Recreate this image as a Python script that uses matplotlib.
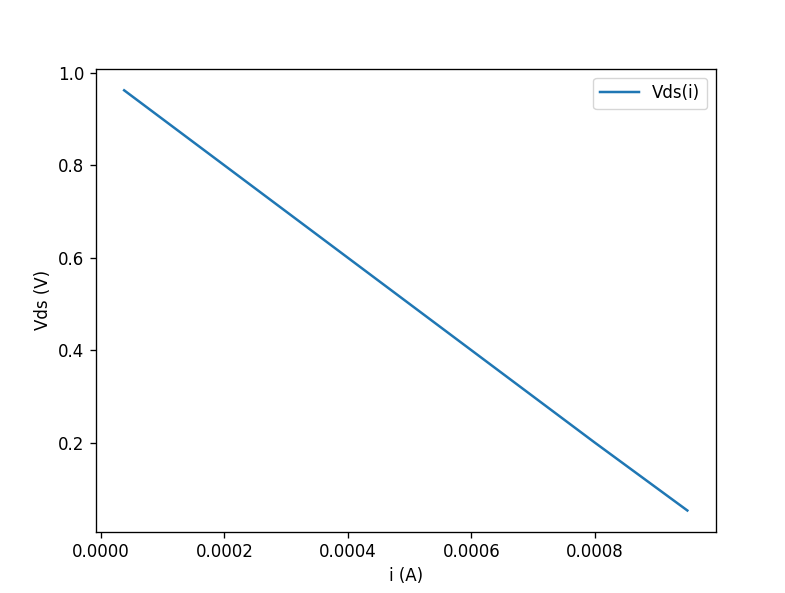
import numpy as np
import matplotlib
matplotlib.use('Agg')
import matplotlib.pyplot as plt

# current through the transistor (A) and drain-source voltage (V)
i_vals = [0.0000375, 0.0002, 0.0004, 0.0006, 0.0008, 0.00095]
vds_vals = [0.9625, 0.800, 0.600, 0.400, 0.200, 0.053]

scale = 1.2  # reference looks like default style rendered at ~120 dpi
plt.rcParams['font.size'] = 10 * scale
plt.rcParams['lines.linewidth'] = 1.5 * scale
plt.rcParams['axes.linewidth'] = 0.8 * scale
for ax_name in ['xtick', 'ytick']:
    plt.rcParams[ax_name + '.major.size'] = 3.5 * scale
    plt.rcParams[ax_name + '.major.width'] = 0.8 * scale
    plt.rcParams[ax_name + '.major.pad'] = 3.5 * scale

fig = plt.figure(figsize=(7.85, 5.93), dpi=100)
ax = fig.add_axes([96 / 785, 1 - 531.5 / 593, (715.5 - 96) / 785, (531.5 - 69.3) / 593])

ax.plot(i_vals, vds_vals, label='Vds(i)')
ax.set_xlabel('i (A)')
ax.set_ylabel('Vds (V)')
ax.legend(loc='upper right', handlelength=2.35)

fig.savefig('out.png', dpi=100)
